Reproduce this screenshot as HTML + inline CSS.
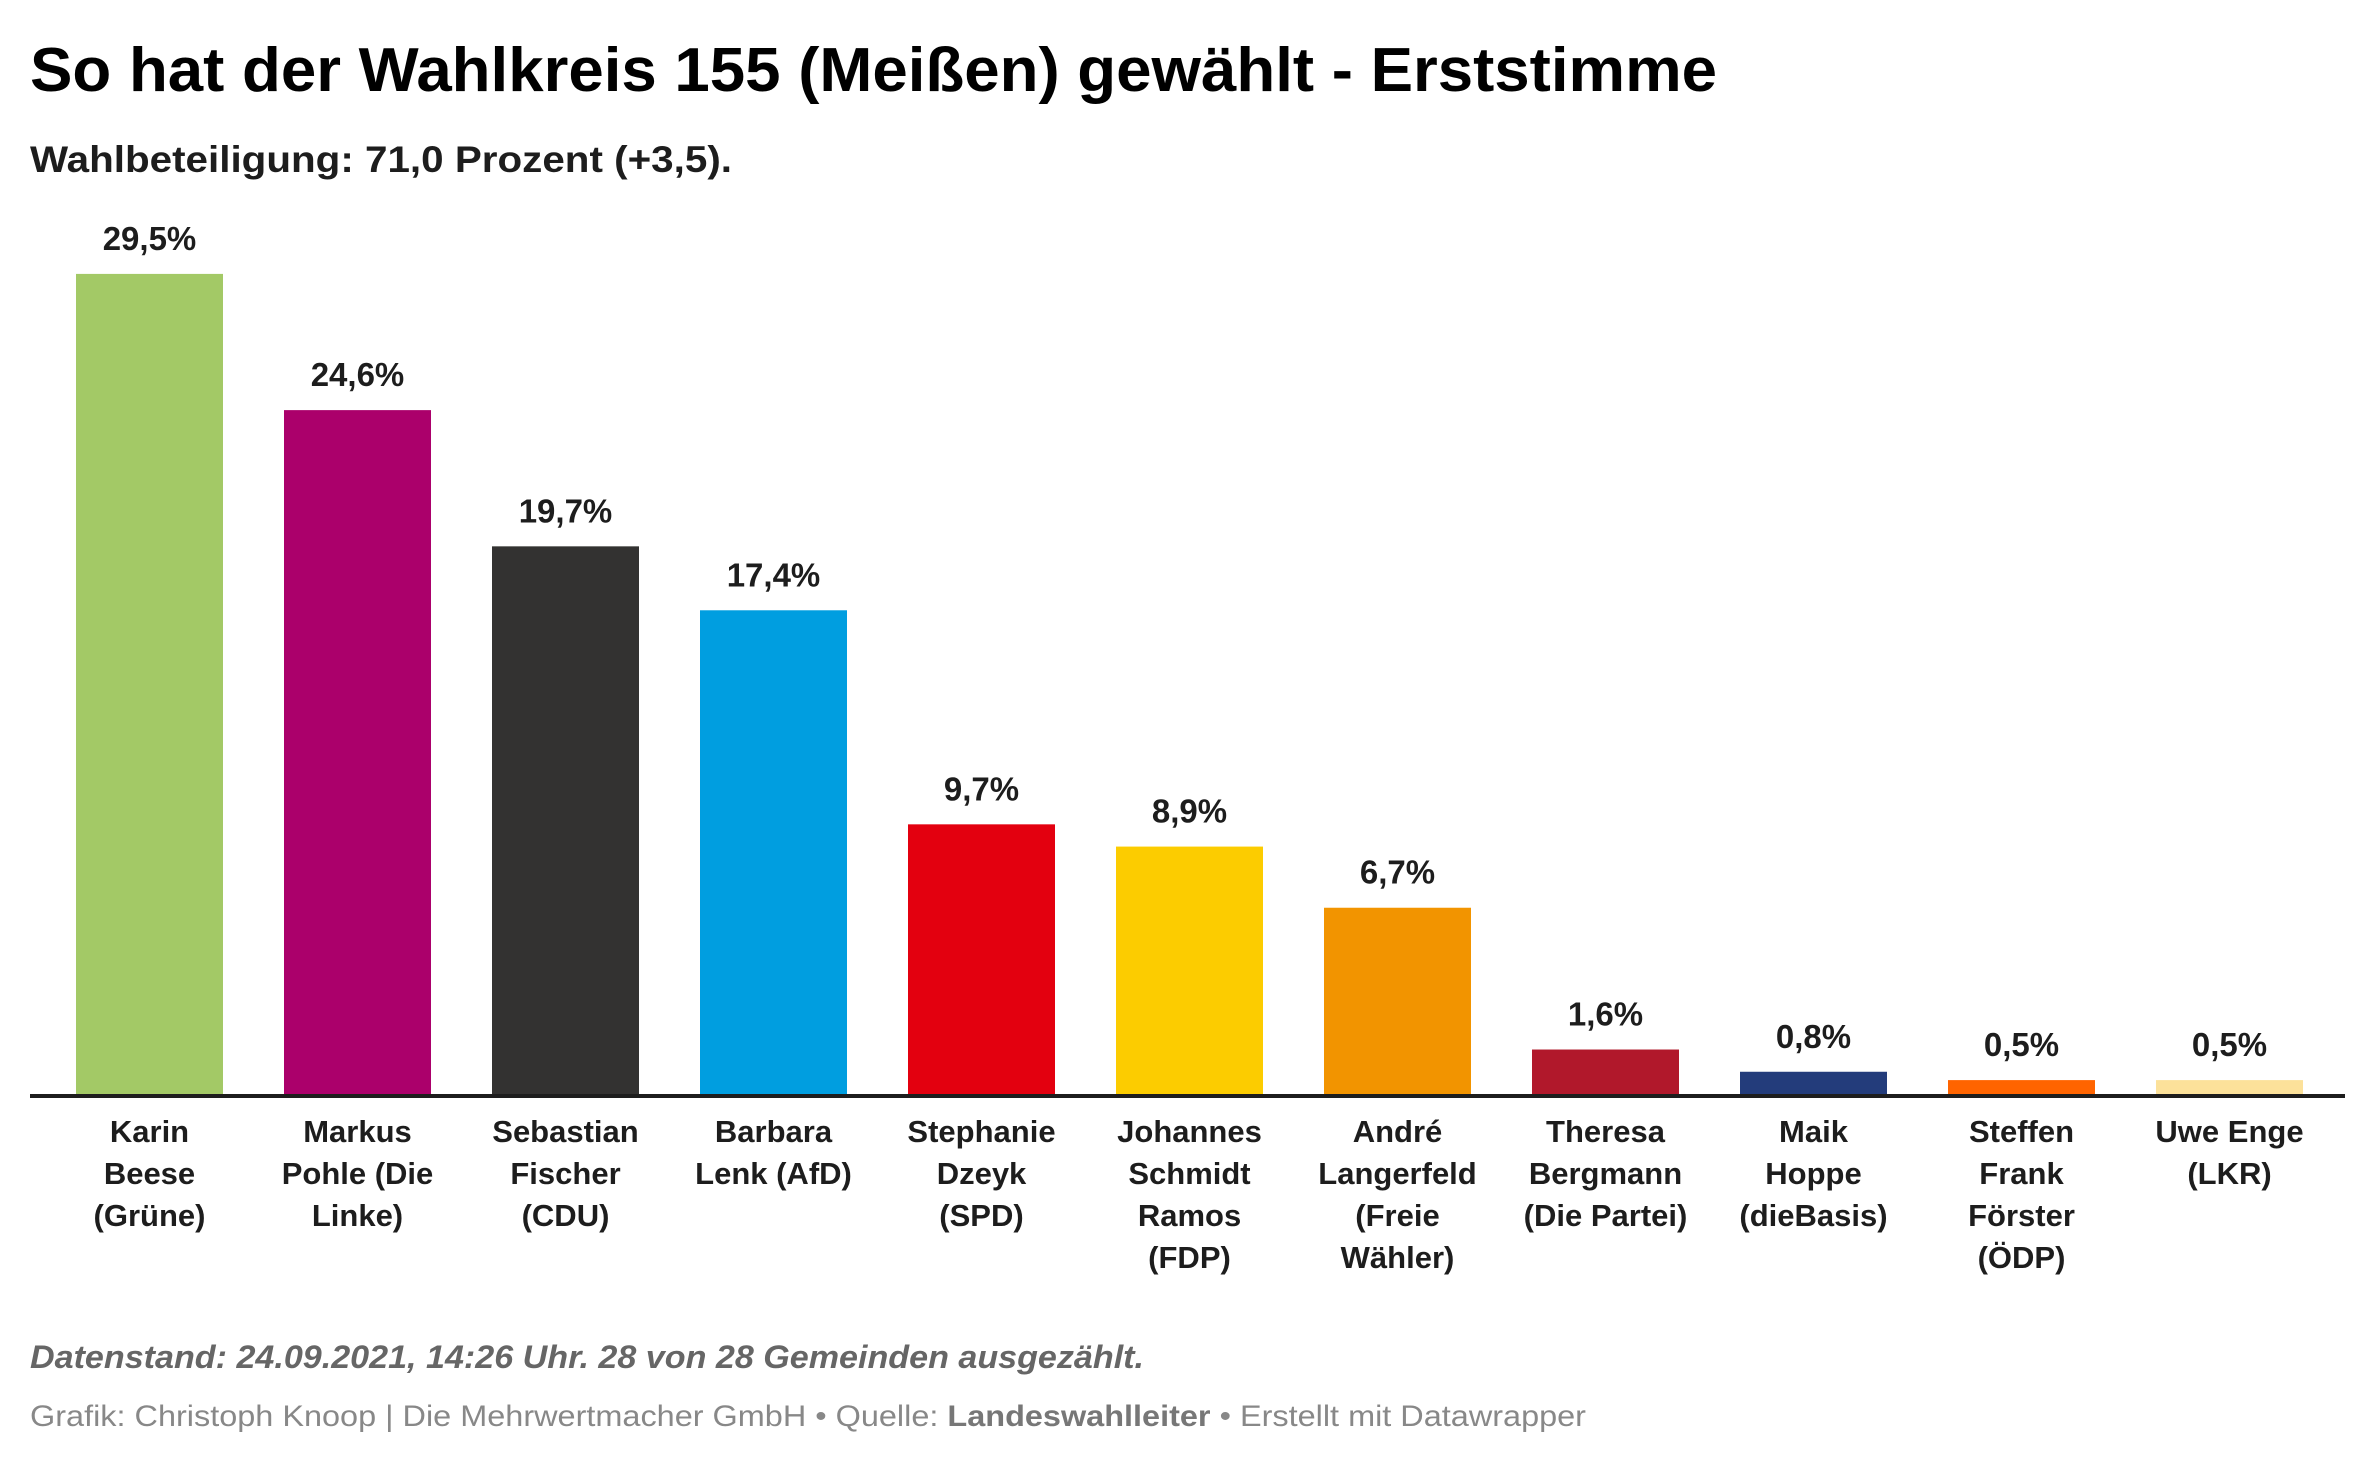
<!DOCTYPE html>
<html><head><meta charset="utf-8"><style>
html,body{margin:0;padding:0;background:#fff;}
svg{display:block;font-family:"Liberation Sans",Arial,sans-serif;}
</style></head><body>
<svg id="chart" width="2364" height="1464" viewBox="0 0 2364 1464">
<text x="30" y="91" font-size="62" font-weight="bold" fill="#000" textLength="1687" lengthAdjust="spacingAndGlyphs">So hat der Wahlkreis 155 (Meißen) gewählt - Erststimme</text>
<text x="30" y="172" font-size="37" font-weight="bold" fill="#1d1d1d" textLength="702" lengthAdjust="spacingAndGlyphs">Wahlbeteiligung: 71,0 Prozent (+3,5).</text>
<g id="bars"></g>
<line x1="30" y1="1096" x2="2345" y2="1096" stroke="#1d1d1d" stroke-width="4"/>
<text x="30" y="1368" font-size="32" font-weight="bold" font-style="italic" fill="#666" textLength="1114" lengthAdjust="spacingAndGlyphs">Datenstand: 24.09.2021, 14:26 Uhr. 28 von 28 Gemeinden ausgezählt.</text>
<text x="30" y="1426" font-size="30" fill="#888" textLength="1556" lengthAdjust="spacingAndGlyphs">Grafik: Christoph Knoop | Die Mehrwertmacher GmbH • Quelle: <tspan font-weight="bold" fill="#777">Landeswahlleiter</tspan> • Erstellt mit Datawrapper</text>
</svg>
<script>
const categories = [["Karin","Beese","(Grüne)"],["Markus","Pohle (Die","Linke)"],["Sebastian","Fischer","(CDU)"],["Barbara","Lenk (AfD)"],["Stephanie","Dzeyk","(SPD)"],["Johannes","Schmidt","Ramos","(FDP)"],["André","Langerfeld","(Freie","Wähler)"],["Theresa","Bergmann","(Die Partei)"],["Maik","Hoppe","(dieBasis)"],["Steffen","Frank","Förster","(ÖDP)"],["Uwe Enge","(LKR)"]];
const values = [29.5,24.6,19.7,17.4,9.7,8.9,6.7,1.6,0.8,0.5,0.5];
const valueLabels = ["29,5%","24,6%","19,7%","17,4%","9,7%","8,9%","6,7%","1,6%","0,8%","0,5%","0,5%"];
const colors = ["#a3c966","#ab006b","#333231","#009ee0","#e3000f","#fccc00","#f29400","#b1182b","#233c7b","#ff6400","#fce19a"];

const NS="http://www.w3.org/2000/svg";
const g=document.getElementById('bars');
const baseY=1094, unit=27.8, x0=76, pitch=208, bw=147;
function xPos(i){return x0+i*pitch;}
function yPos(v){return baseY-v*unit;}
values.forEach((v,i)=>{
  const r=document.createElementNS(NS,'rect');
  r.setAttribute('x',xPos(i));r.setAttribute('y',yPos(v));
  r.setAttribute('width',bw);r.setAttribute('height',baseY-yPos(v));
  r.setAttribute('fill',colors[i]);
  
  
  g.appendChild(r);
  const t=document.createElementNS(NS,'text');
  t.setAttribute('x',xPos(i)+bw/2);t.setAttribute('y',yPos(v)-24);
  t.setAttribute('text-anchor','middle');t.setAttribute('font-size','33');
  t.setAttribute('font-weight','bold');t.setAttribute('fill','#1d1d1d');
  t.textContent=valueLabels[i];
  
  
  g.appendChild(t);
  categories[i].forEach((line,j)=>{
    const c=document.createElementNS(NS,'text');
    c.setAttribute('x',xPos(i)+bw/2);c.setAttribute('y',1142+j*42);
    c.setAttribute('text-anchor','middle');c.setAttribute('font-size','31');
    c.setAttribute('font-weight','bold');c.setAttribute('fill','#1d1d1d');
    c.textContent=line;
    
    
    g.appendChild(c);
  });
});
</script>
</body></html>
